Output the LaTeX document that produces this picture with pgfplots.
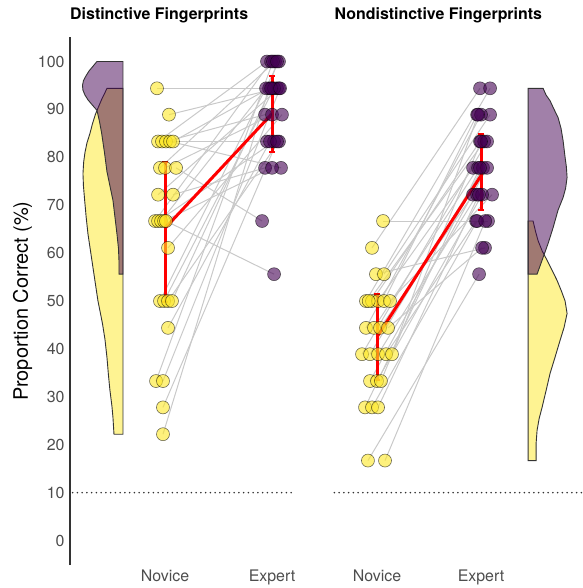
\documentclass[border=0pt]{standalone}
\usepackage{fontspec}
\setmainfont{TeX Gyre Heros}
\usepackage{pgfplots}
\usepackage{pgfplotstable}
\pgfplotsset{compat=1.18}
\definecolor{vyel}{HTML}{FDE725}
\definecolor{vpur}{HTML}{440154}
\definecolor{tickgray}{HTML}{4D4D4D}

% Distinctive: novice (nx,ny) -> expert (ex,ey)
\pgfplotstableread{
nx ny ex ey
0.925 94.4 2.000 94.4
1.037 88.9 2.047 94.4
0.935 83.3 1.953 100
0.972 83.3 1.953 83.3
1.009 83.3 1.935 88.9
1.047 83.3 2.084 77.8
1.075 83.3 1.972 94.4
0.953 77.8 2.028 100
1.000 77.8 2.000 88.9
1.103 77.8 1.907 66.7
0.935 72.2 2.065 94.4
1.075 72.2 1.935 77.8
0.907 66.7 1.991 100
0.935 66.7 2.019 83.3
0.963 66.7 1.944 94.4
0.991 66.7 2.000 77.8
1.009 66.7 2.019 55.6
1.028 61.1 2.093 88.9
0.953 50.0 2.065 100
0.991 50.0 2.019 94.4
1.028 50.0 2.065 83.3
1.065 50.0 1.991 94.4
1.028 44.4 1.981 83.3
0.916 33.3 2.009 100
0.981 33.3 2.075 94.4
0.981 27.8 2.047 83.3
0.981 22.2 2.047 100
}\lefttab

% Nondistinctive
\pgfplotstableread{
nx ny ex ey
1.058 66.7 2.067 66.7
0.952 61.1 1.990 94.4
0.990 55.6 2.038 61.1
1.067 55.6 2.087 88.9
0.894 50.0 2.087 94.4
0.952 50.0 1.990 83.3
1.010 50.0 1.923 77.8
1.067 50.0 1.962 88.9
1.125 50.0 2.106 72.2
0.920 50.0 2.030 83.3
0.894 44.4 2.000 88.9
0.971 44.4 1.971 77.8
1.029 44.4 1.923 72.2
1.106 44.4 2.010 61.1
0.856 38.9 2.058 83.3
0.933 38.9 2.019 77.8
1.010 38.9 1.962 72.2
1.087 38.9 1.952 66.7
1.144 38.9 1.971 88.9
0.933 33.3 2.058 77.8
1.000 33.3 2.010 72.2
1.038 33.3 2.000 83.3
0.885 27.8 1.990 77.8
0.952 27.8 1.962 66.7
1.010 27.8 1.980 72.2
0.913 16.7 1.981 55.6
1.077 16.7 2.040 66.7
}\righttab

\pgfplotsset{
  panel/.style={
    scale only axis, height=527.7bp,
    ymin=-5.1, ymax=105.05,
    ytick={0,10,...,100},
    xtick={1,2}, xticklabels={Novice,Expert},
    major tick length=0pt, tick style={draw=none},
    tick label style={font=\fontsize{16}{19}\selectfont, text=tickgray},
    yticklabel style={xshift=-2bp},
    xticklabel style={yshift=-1.5bp},
    /pgf/number format/assume math mode=true,
    clip=false,
    title style={at={(axis description cs:0,1)}, anchor=base west, yshift=12bp,
      inner sep=0pt, font=\bfseries\fontsize{16}{19}\selectfont},
  },
  vyelfill/.style={draw=black!80, line width=0.9bp, fill=vyel, fill opacity=0.5},
  vpurfill/.style={draw=black!80, line width=0.9bp, fill=vpur, fill opacity=0.5},
  pairline/.style={black!21, line width=1bp, mark=none,
    quiver={u={\thisrow{ex}-\thisrow{nx}}, v={\thisrow{ey}-\thisrow{ny}}}},
  novpts/.style={only marks, mark=*, mark size=6.5bp,
    mark options={fill=vyel, fill opacity=0.6, draw=black, draw opacity=0.6, line width=0.55bp}},
  exppts/.style={only marks, mark=*, mark size=6.5bp,
    mark options={fill=vpur, fill opacity=0.6, draw=black, draw opacity=0.6, line width=0.55bp}},
  meanline/.style={red, line width=3bp, mark=none,
    error bars/.cd, y dir=both, y explicit,
    error bar style={line width=3bp, red},
    error mark options={rotate=90, mark size=2.6bp, line width=2bp, red}},
  chance/.style={black!80, line width=1.8bp, line cap=round, dash pattern=on 0pt off 4.75bp},
}

\begin{document}
\begin{tikzpicture}
\useasboundingbox (0,0) rectangle (583bp,588bp);

% ---------- Distinctive ----------
\begin{axis}[panel, at={(70bp,23bp)}, anchor=south west, width=223bp,
  xmin=0.112, xmax=2.196,
  axis x line*=bottom, axis y line*=left,
  x axis line style={draw=none},
  y axis line style={-, draw=black!80, line width=1.1bp},
  title={Distinctive Fingerprints},
  ylabel={Proportion Correct (\%)},
  ylabel style={at={(axis description cs:-0.213,0.5)}, anchor=center,
    font=\fontsize{20}{24}\selectfont, text=black},
]
\addplot[vyelfill] coordinates {
(0.607,94.4) (0.4575,94.4) (0.4388,93.5) (0.4061,92) (0.3780,90.5) (0.3500,89)
(0.3220,87) (0.2986,85) (0.2706,83) (0.2519,81) (0.2397,79) (0.2332,76.6)
(0.2378,74) (0.2491,71) (0.2631,67.5) (0.2799,64) (0.3033,60.5) (0.3266,57)
(0.3500,53.5) (0.3734,50) (0.4154,45.3) (0.4388,42) (0.4575,38.2) (0.4715,34.5)
(0.4855,31.3) (0.5042,28) (0.5135,25.7) (0.5229,22.2) (0.607,22.2)} -- cycle;
\addplot[vpurfill] coordinates {
(0.607,100) (0.364,100) (0.3266,99) (0.2892,98) (0.2612,97) (0.2378,96)
(0.2285,95) (0.2332,94) (0.2519,93) (0.2799,92) (0.3173,91) (0.364,89.8)
(0.3874,87.5) (0.4079,85) (0.4341,81) (0.4575,77) (0.4855,74) (0.5135,71)
(0.5322,67.5) (0.5509,64) (0.5649,61) (0.5696,58.5) (0.5696,55.6) (0.607,55.6)} -- cycle;
\addplot[chance] coordinates {(0.137,10) (2.196,10)};
\addplot[pairline] table[x=nx, y=ny] {\lefttab};
\addplot[novpts] table[x=nx, y=ny] {\lefttab};
\addplot[exppts] table[x=ex, y=ey] {\lefttab};
\addplot[meanline] coordinates {(1,65.2) += (0,13.8) -= (0,15.4) (2,89.1) += (0,7.8) -= (0,7.9)};
\end{axis}

% ---------- Nondistinctive ----------
\begin{axis}[panel, at={(333bp,23bp)}, anchor=south west, width=250bp,
  xmin=0.577, xmax=2.98,
  axis line style={draw=none},
  ytick=\empty,
  title={Nondistinctive Fingerprints},
  title style={xshift=1.5bp},
]
\addplot[vyelfill] coordinates {
(2.452,66.7) (2.5001,66.7) (2.5241,64.5) (2.5482,62.6) (2.5866,60.5) (2.6347,58.5)
(2.6828,56.4) (2.7308,54.3) (2.7741,52) (2.8078,50) (2.827,47.4) (2.7982,44.5)
(2.7597,41.8) (2.7116,38.3) (2.6635,34.9) (2.6251,31.3) (2.5866,27.8) (2.5578,25.4)
(2.5385,23) (2.5289,20.2) (2.5289,16.7) (2.452,16.7)} -- cycle;
\addplot[vpurfill] coordinates {
(2.452,94.4) (2.5962,94.4) (2.6251,93) (2.6635,91.8) (2.702,90) (2.7405,88.3)
(2.7693,86) (2.7885,83.5) (2.8078,80) (2.8203,78) (2.827,75.8) (2.8126,73.5)
(2.7885,71.6) (2.7405,69) (2.6924,65.3) (2.6443,62) (2.5866,58.5) (2.5385,55.6)
(2.452,55.6)} -- cycle;
\addplot[chance] coordinates {(0.59,10) (2.98,10)};
\addplot[pairline] table[x=nx, y=ny] {\righttab};
\addplot[novpts] table[x=nx, y=ny] {\righttab};
\addplot[exppts] table[x=ex, y=ey] {\righttab};
\addplot[meanline] coordinates {(1,42.5) += (0,8.9) -= (0,8.9) (2,76.2) += (0,8.6) -= (0,7.1)};
\end{axis}
\end{tikzpicture}
\end{document}
